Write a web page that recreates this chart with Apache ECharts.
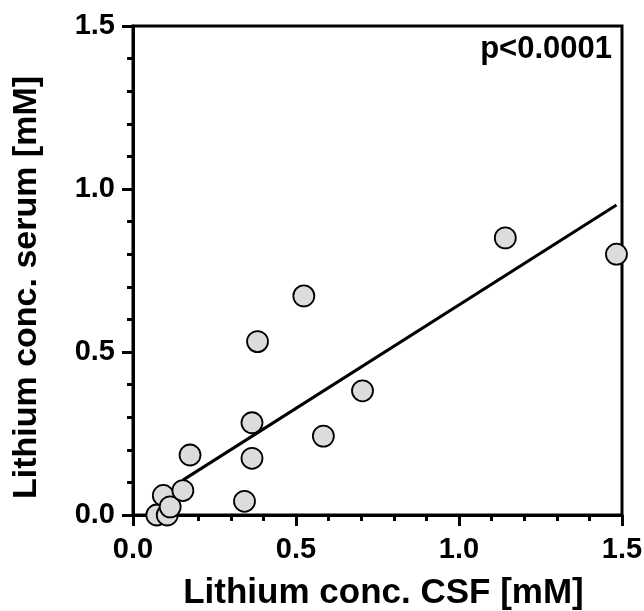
<!DOCTYPE html>
<html>
<head>
<meta charset="utf-8">
<script src="https://cdn.jsdelivr.net/npm/echarts@6/dist/echarts.min.js"></script>
<style>
  html, body { margin: 0; padding: 0; background: #fff; }
  #chart { width: 644px; height: 611px; }
</style>
</head>
<body>
<div id="chart"></div>
<script>
// Lithium in CSF vs serum, one point per sample
const csfValues = [0.073, 0.105, 0.093, 0.114, 0.153, 0.175, 0.342, 0.365, 0.365, 0.382, 0.524, 0.584, 0.704, 1.142, 1.483];
const serumValues = [0.0, 0.0, 0.06, 0.025, 0.075, 0.184, 0.042, 0.174, 0.283, 0.532, 0.672, 0.242, 0.381, 0.85, 0.80];

// regression line endpoints
const fitX = [0.153, 1.483];
const fitY = [0.107, 0.951];

const axisTicks = [0, 0.5, 1.0, 1.5];
const pLabel = "p<0.0001";

const font = "'Liberation Sans', Arial, sans-serif";
const chart = echarts.init(document.getElementById("chart"));

const axisCommon = {
  type: "value",
  min: axisTicks[0],
  max: axisTicks[axisTicks.length - 1],
  interval: axisTicks[1] - axisTicks[0],
  nameLocation: "middle",
  axisLine: { show: true, onZero: false, lineStyle: { color: "#000", width: 3 } },
  axisTick: { show: true, inside: false, length: 11, lineStyle: { color: "#000", width: 3 } },
  minorTick: { show: true, splitNumber: 5, length: 6, lineStyle: { color: "#000", width: 3 } },
  splitLine: { show: false },
  axisLabel: {
    color: "#000",
    fontFamily: font,
    fontWeight: "bold",
    fontSize: 29,
    formatter: (v) => v.toFixed(1),
  },
};

const options = {
  animation: false,
  backgroundColor: "#fff",
  title: {
    text: pLabel,
    right: 32,
    top: 34,
    padding: 0,
    textStyle: { color: "#000", fontFamily: font, fontWeight: "bold", fontSize: 31 },
  },
  grid: {
    left: 133,
    right: 22,
    top: 26,
    bottom: 96,
    outerBoundsMode: "none",
    containLabel: false,
    show: true,
    borderColor: "#000",
    borderWidth: 3,
  },
  xAxis: {
    ...axisCommon,
    name: "Lithium conc. CSF [mM]",
    nameGap: 61,
    nameTextStyle: {
      color: "#000", fontFamily: font, fontWeight: "bold", fontSize: 35,
      padding: [0, 0, 0, 12],
    },
    axisLabel: { ...axisCommon.axisLabel, margin: 20 },
  },
  yAxis: {
    ...axisCommon,
    name: "Lithium conc. serum [mM]",
    nameGap: 89,
    nameTextStyle: {
      color: "#000", fontFamily: font, fontWeight: "bold", fontSize: 34,
      padding: [0, 34, 0, 0],
    },
    axisLabel: { ...axisCommon.axisLabel, margin: 18 },
  },
  series: [
    {
      type: "line",
      data: fitX.map((x, i) => [x, fitY[i]]),
      showSymbol: false,
      symbol: "none",
      lineStyle: { color: "#000", width: 3 },
      z: 2,
      silent: true,
    },
    {
      type: "scatter",
      data: csfValues.map((x, i) => [x, serumValues[i]]),
      symbol: "circle",
      symbolSize: 21,
      itemStyle: { color: "#dcdcdc", borderColor: "#000", borderWidth: 1.8, opacity: 1 },
      z: 3,
    },
  ],
};

chart.setOption(options);
</script>
</body>
</html>
